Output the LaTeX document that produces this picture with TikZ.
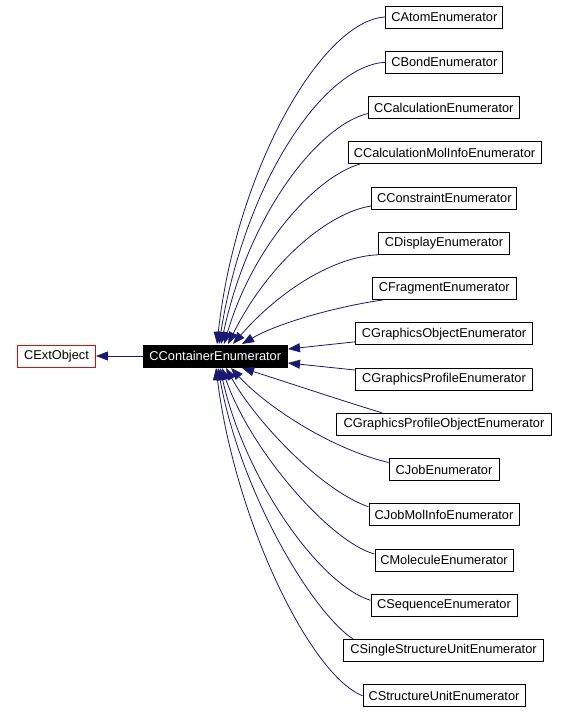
\documentclass[tikz,border=0pt]{standalone}
\usepackage{fontspec}
\setmainfont{Liberation Sans}
\usetikzlibrary{arrows.meta}
\definecolor{edgeblue}{HTML}{191970}
\begin{document}
\begin{tikzpicture}[x=1pt,y=-1pt,
  box/.style={draw=black, line width=0.9pt, minimum height=22pt, inner sep=0pt,
    font=\fontsize{12.8}{14}\selectfont, fill=white},
  edge/.style={draw=edgeblue, line width=0.8pt, -{Triangle[length=12pt,width=9pt]}}]
\useasboundingbox (0,0) rectangle (569,713);
% main nodes
\node[box, draw=red, minimum width=78pt] (ext) at (56.5,356) {CExtObject};
\node[box, fill=black, text=white, minimum width=144pt] (cont) at (215.3,356) {CContainerEnumerator};
% children
\node[box, minimum width=117pt] (atom) at (444.3,17) {CAtomEnumerator};
\node[box, minimum width=117pt] (bond) at (444.3,62.3) {CBondEnumerator};
\node[box, minimum width=151pt] (calc) at (443.8,107.5) {CCalculationEnumerator};
\node[box, minimum width=193pt] (calcmol) at (444.5,152.8) {CCalculationMolInfoEnumerator};
\node[box, minimum width=145pt] (constraint) at (444.3,198) {CConstraintEnumerator};
\node[box, minimum width=131pt] (display) at (444,243.3) {CDisplayEnumerator};
\node[box, minimum width=144pt] (fragment) at (444.3,288.5) {CFragmentEnumerator};
\node[box, minimum width=177pt] (gobj) at (444,333.8) {CGraphicsObjectEnumerator};
\node[box, minimum width=177pt] (gprof) at (444,379) {CGraphicsProfileEnumerator};
\node[box, minimum width=215pt] (gpobj) at (444,424.3) {CGraphicsProfileObjectEnumerator};
\node[box, minimum width=110pt] (job) at (444,469.5) {CJobEnumerator};
\node[box, minimum width=150pt] (jobmol) at (444,514.8) {CJobMolInfoEnumerator};
\node[box, minimum width=138pt] (molecule) at (444,560) {CMoleculeEnumerator};
\node[box, minimum width=146pt] (sequence) at (444,605.3) {CSequenceEnumerator};
\node[box, minimum width=200pt] (single) at (443.5,650.5) {CSingleStructureUnitEnumerator};
\node[box, minimum width=162pt] (structure) at (444,695.8) {CStructureUnitEnumerator};
% arrow tip points on the container box
\coordinate (t1) at (217,344);
\coordinate (t2) at (219,344);
\coordinate (t3) at (221,344);
\coordinate (t4) at (224,344);
\coordinate (t5) at (228,344);
\coordinate (t6) at (233,344);
\coordinate (t7) at (242,344);
\coordinate (t8) at (288,349);
\coordinate (t9) at (288,363);
\coordinate (t10) at (242,368);
\coordinate (t11) at (231,368);
\coordinate (t12) at (226,368);
\coordinate (t13) at (222,368);
\coordinate (t14) at (220,368);
\coordinate (t15) at (218,368);
\coordinate (t16) at (216,368);
% edges
\draw[edge] (cont.west) -- (ext.east);
\draw[edge] (atom.west) .. controls (322,20) and (236,170) .. (t1);
\draw[edge] (bond.west) .. controls (325,65) and (245,180) .. (t2);
\draw[edge] ([yshift=-6pt]calc.west) .. controls (320,125) and (250,210) .. (t3);
\draw[edge] ([xshift=12pt]calcmol.south west) .. controls (320,175) and (255,240) .. (t4);
\draw[edge] ([yshift=-8pt]constraint.west) .. controls (330,212) and (270,260) .. (t5);
\draw[edge] ([xshift=1pt]display.south west) .. controls (335,256) and (280,290) .. (t6);
\draw[edge] ([xshift=11pt]fragment.south west) .. controls (340,306) and (280,322) .. (t7);
\draw[edge] ([yshift=-8pt]gobj.west) -- (t8);
\draw[edge] ([yshift=9pt]gprof.west) -- (t9);
\draw[edge] ([xshift=46pt]gpobj.north west) .. controls (340,400) and (280,380) .. (t10);
\draw[edge] ([yshift=7pt]job.west) .. controls (335,450) and (270,410) .. (t11);
\draw[edge] ([yshift=8pt]jobmol.west) .. controls (320,490) and (255,420) .. (t12);
\draw[edge] ([yshift=6pt]molecule.west) .. controls (330,542) and (250,450) .. (t13);
\draw[edge] ([yshift=5pt]sequence.west) .. controls (320,585) and (245,480) .. (t14);
\draw[edge] ([xshift=10pt]single.north west) .. controls (310,610) and (240,490) .. (t15);
\draw[edge] (structure.west) .. controls (310,675) and (235,520) .. (t16);
\end{tikzpicture}
\end{document}
